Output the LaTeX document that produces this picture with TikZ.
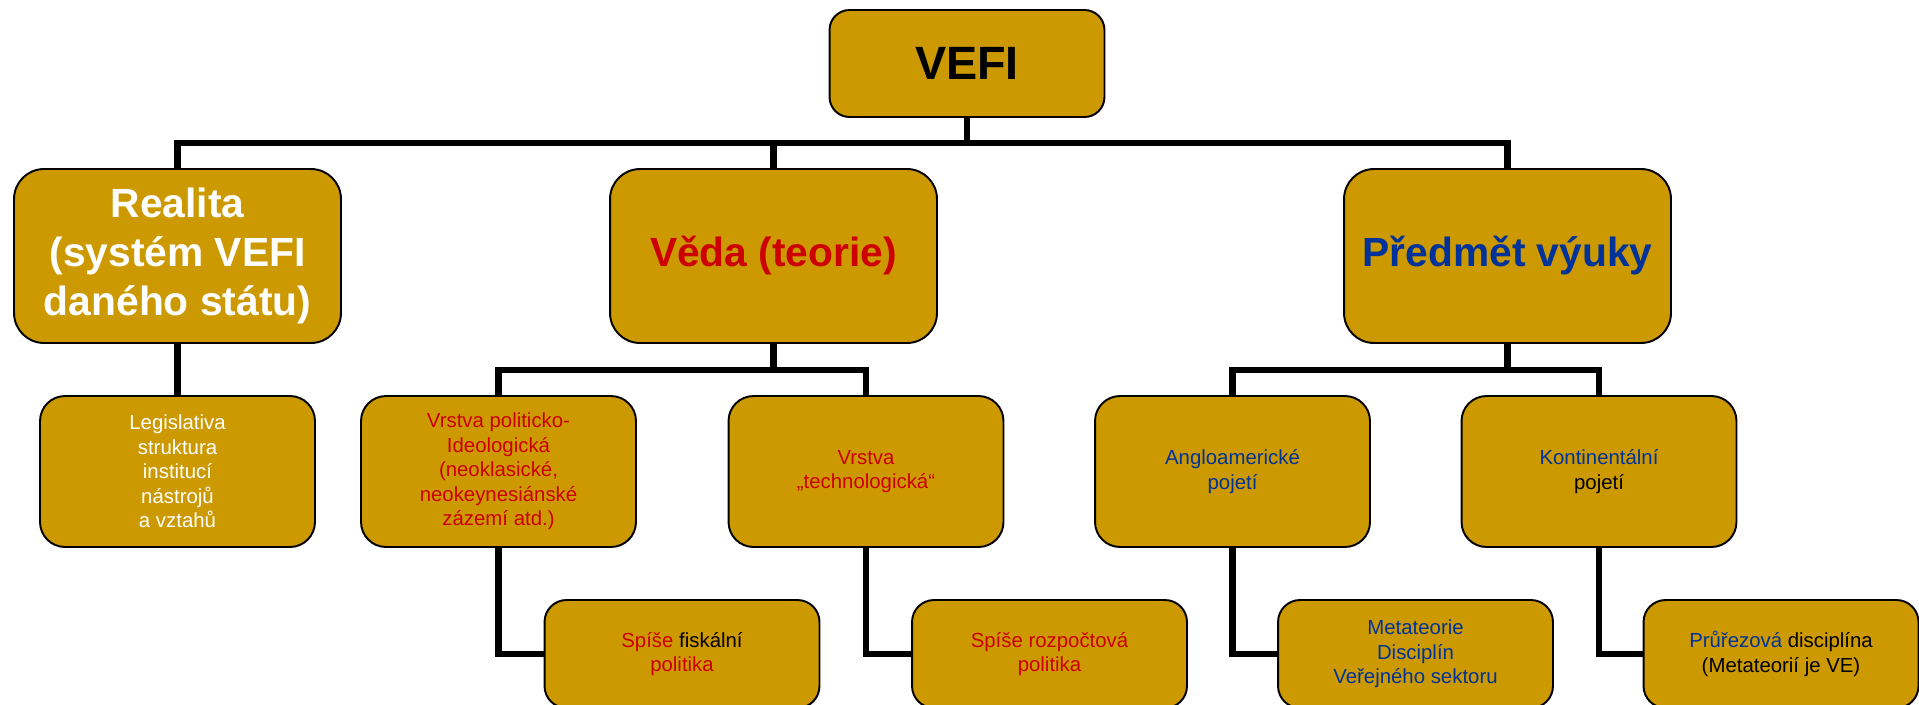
\documentclass[tikz,border=0pt]{standalone}
\usepackage{fontspec}
\setmainfont{Liberation Sans}
\usepackage{tikz}
\usetikzlibrary{calc}
\definecolor{gold}{RGB}{204,153,0}
\definecolor{vred}{RGB}{204,0,0}
\definecolor{vblue}{RGB}{0,51,153}
\begin{document}
\begin{tikzpicture}[x=0.02cm,y=-0.02cm,
        box/.style={draw,line width=1.1pt,fill=gold,align=center,inner sep=0pt},
        topbox/.style={box,rounded corners=0.4cm,minimum width=5.5cm,minimum height=2.14cm,font=\bfseries\fontsize{26.6}{30}\selectfont},
        bigbox/.style={box,rounded corners=0.6cm,minimum width=6.54cm,minimum height=3.48cm,font=\bfseries\fontsize{23.2}{27.8}\selectfont},
        midbox/.style={box,rounded corners=0.5cm,minimum width=5.5cm,minimum height=3.02cm,font=\fontsize{11.6}{14}\selectfont},
        lowbox/.style={box,rounded corners=0.44cm,minimum width=5.5cm,minimum height=2.16cm,font=\fontsize{11.6}{14}\selectfont},
        link/.style={line width=3.7pt}]
        \useasboundingbox (0,0) rectangle (1919,704);
        \node[topbox](vefi) at (967,63.5){VEFI};
        \node[bigbox,text=white](realita) at (177.5,256){Realita\\(systém VEFI\\daného státu)};
        \node[bigbox,text=vred](veda) at (773.5,256){Věda (teorie)};
        \node[bigbox,text=vblue](predmet) at (1507.5,256){Předmět výuky};
        \node[midbox,text=white](legis) at (177.5,471.5){Legislativa\\struktura\\institucí\\nástrojů\\a vztahů};
        \node[midbox,text=vred](polit) at (498.5,471.5){Vrstva politicko-\\Ideologická\\(neoklasické,\\neokeynesiánské\\zázemí atd.)};
        \node[midbox,text=vred](techno) at (866,471.5){Vrstva\\„technologická“};
        \node[midbox,text=vblue](anglo) at (1232.5,471.5){Angloamerické\\pojetí};
        \node[midbox](kontin) at (1599,471.5){{\color{vblue}Kontinentální}\\pojetí};
        \node[lowbox](fiskal) at (682,654){{\color{vred}Spíše} fiskální\\{\color{vred}politika}};
        \node[lowbox,text=vred](rozpocet) at (1049.5,654){Spíše rozpočtová\\politika};
        \node[lowbox,text=vblue](meta) at (1415.5,654){Metateorie\\Disciplín\\Veřejného sektoru};
        \node[lowbox](prurez) at (1781,654){{\color{vblue}Průřezová} disciplína\\(Metateorií je VE)};
        \coordinate(bar) at (967,143);
        \coordinate(barveda) at (773.5,370);
        \coordinate(barpredmet) at (1507.5,370);
        \draw[link](vefi.south)--(bar);
        \draw[link](realita.north)|-(bar)-|(predmet.north);
        \draw[link](veda.north)--(veda.north|-bar);
        \draw[link](realita.south)--(legis.north);
        \draw[link](veda.south)--(barveda);
        \draw[link](polit.north)|-(barveda)-|(techno.north);
        \draw[link](predmet.south)--(barpredmet);
        \draw[link](anglo.north)|-(barpredmet)-|(kontin.north);
        \draw[link](polit.south)|-(fiskal.west);
        \draw[link](techno.south)|-(rozpocet.west);
        \draw[link](anglo.south)|-(meta.west);
        \draw[link](kontin.south)|-(prurez.west);
    \end{tikzpicture}
\end{document}
